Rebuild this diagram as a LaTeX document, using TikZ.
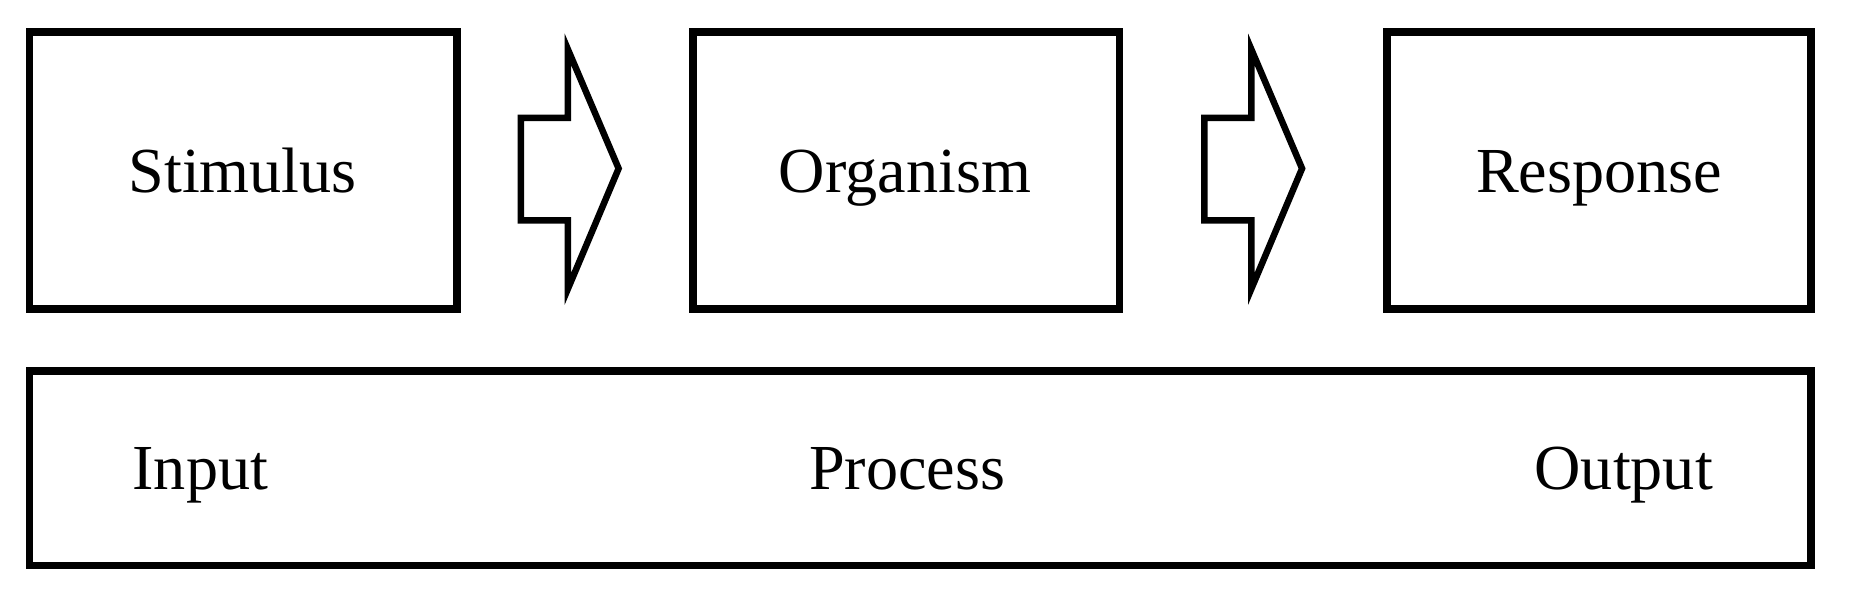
\documentclass[tikz,border=0pt]{standalone}
\usepackage{fontspec}
\setmainfont{Liberation Serif}
\begin{document}
\begin{tikzpicture}[x=0.02cm,y=-0.02cm,
  box/.style={draw,line width=0.13cm},
  lbl/.style={font=\fontsize{31}{34}\selectfont,inner sep=0pt,anchor=base},
  arr/.style={draw,line width=0.11cm,line join=miter}]
\useasboundingbox (0,0) rectangle (1570,514);
\draw[box] (25,27) rectangle (388,262);
\draw[box] (588,27) rectangle (950,262);
\draw[box] (1177,27) rectangle (1537,262);
\draw[box] (25,315) rectangle (1537,480);
\node[lbl] (s) at (206,163) {Stimulus};
\node[lbl] (o) at (768,163) {Organism};
\node[lbl] (r) at (1357,163) {Response};
\node[lbl] (i) at (170,415) {Input};
\node[lbl] (p) at (770,415) {Process};
\node[lbl] (u) at (1378,415) {Output};
\foreach \dx in {0,580}{
  \draw[arr] (442+\dx,100) -- (482+\dx,100) -- (482+\dx,42) -- (525+\dx,143) -- (482+\dx,245) -- (482+\dx,187) -- (442+\dx,187) -- cycle;
}
\end{tikzpicture}
\end{document}
